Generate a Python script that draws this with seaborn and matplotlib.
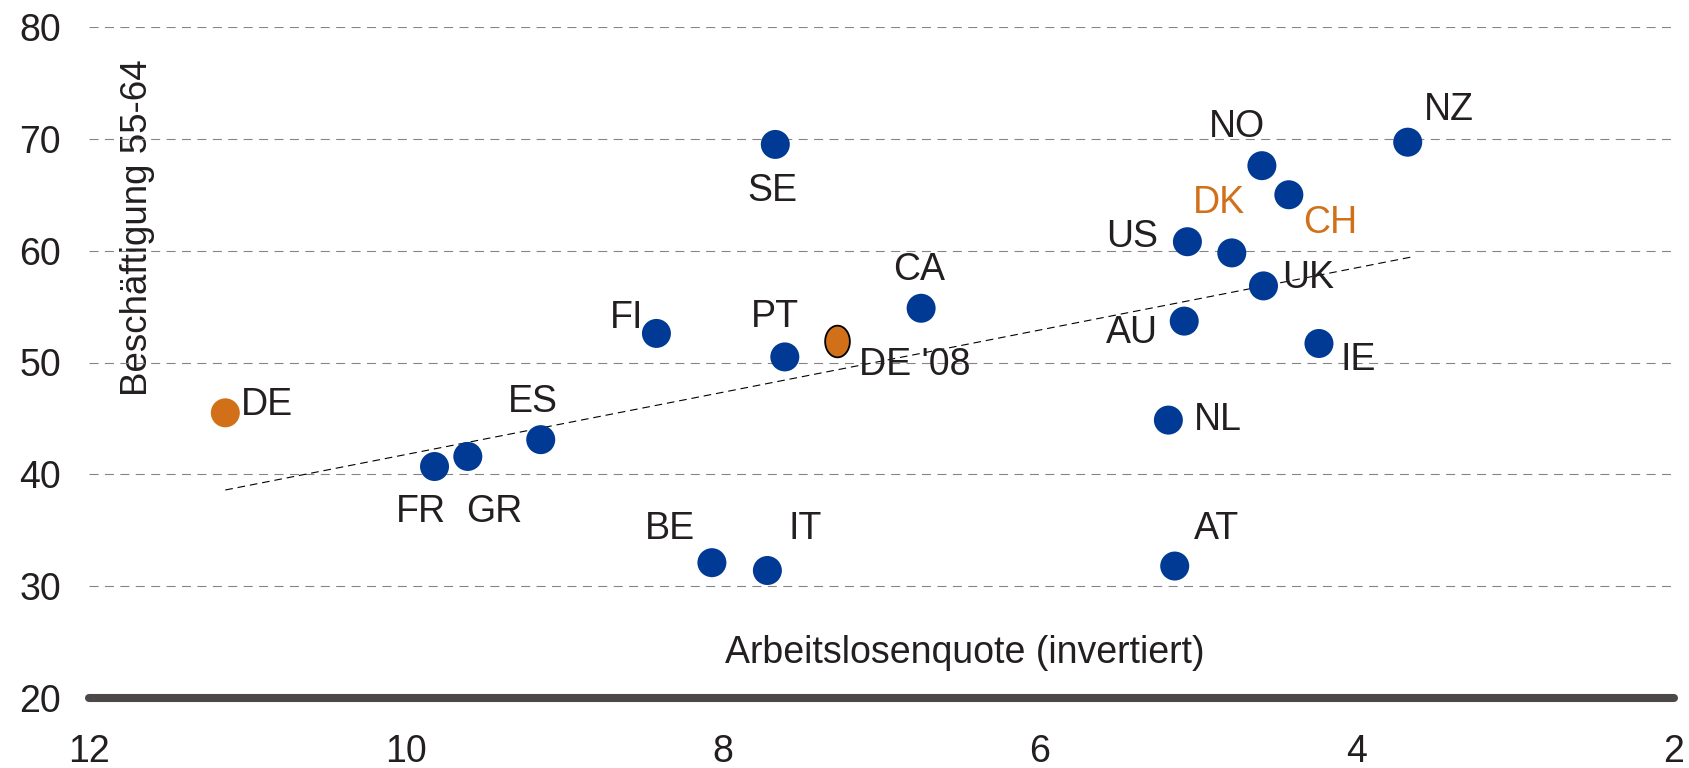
import matplotlib
matplotlib.use("Agg")
import matplotlib.pyplot as plt
import seaborn as sns
import pandas as pd
import numpy as np
from matplotlib.path import Path

# ---------------- data ----------------
countries = ["DE", "FR", "GR", "ES", "FI", "SE", "PT", "CA", "BE", "IT",
             "AT", "NL", "AU", "US", "DK", "UK", "NO", "CH", "IE", "NZ"]
unemployment = [11.14, 9.82, 9.61, 9.15, 8.42, 7.67, 7.61, 6.75, 8.07, 7.72,
                5.15, 5.19, 5.09, 5.07, 4.79, 4.59, 4.60, 4.43, 4.24, 3.68]
employment_55_64 = [45.5, 40.7, 41.6, 43.1, 52.6, 69.5, 50.5, 54.85, 32.1, 31.4,
                    31.8, 44.85, 53.7, 60.8, 59.8, 56.85, 67.6, 65.0, 51.7, 69.7]
groups = ["DE"] + ["other"] * 19

de08_label = "DE '08"
de08_x = [7.28]
de08_y = [51.95]

trend_x = [11.14, 3.65]
trend_y = [38.6, 59.45]

x_ticks = [12, 10, 8, 6, 4, 2]
y_ticks = [20, 30, 40, 50, 60, 70, 80]
x_label = "Arbeitslosenquote (invertiert)"
y_label = "Beschäftigung 55-64"
orange_text = ["DK", "CH"]

# ---------------- style ----------------
BLUE = "#003A94"
ORANGE = "#D2701A"
TXT = "#231F20"
GRID = "#858585"
AXLINE = "#4D4848"
FS = 27

# label offsets in pixels (dx right, dy up) and horizontal alignment
label_layout = {
    "DE": (16, -2, "left"), "FR": (-14, -55, "center"), "GR": (26, -66, "center"),
    "ES": (-8, 28, "center"), "FI": (-30, 5, "center"), "SE": (-3, -57, "center"),
    "PT": (-10, 30, "center"), "CA": (-2, 28, "center"), "BE": (-42, 24, "center"),
    "IT": (38, 32, "center"), "AT": (42, 27, "center"), "NL": (49, -10, "center"),
    "AU": (-52, -22, "center"), "US": (-55, -5, "center"), "DK": (-13, 40, "center"),
    "UK": (45, -2, "center"), "NO": (-25, 29, "center"), "CH": (41, -38, "center"),
    "IE": (39, -27, "center"), "NZ": (41, 22, "center"),
}
de08_offset = (22, -34, "left")

sns.set_theme(style="white")
plt.rcParams["font.family"] = ["Liberation Sans", "DejaVu Sans"]
plt.rcParams["lines.scale_dashes"] = False

W, H = 1690, 768
fig = plt.figure(figsize=(W / 100, H / 100), dpi=100)
ax = fig.add_axes([89 / W, (H - 698) / H, 1585 / W, 671 / H])
PX = 0.72  # points per pixel

df = pd.DataFrame({"x": unemployment, "y": employment_55_64,
                   "land": countries, "grp": groups})

# grid lines
for yv in y_ticks[1:]:
    ax.axhline(yv, color=GRID, lw=0.8, dashes=(6.5, 4.6), zorder=1)
# thick base line
ax.axhline(20, color=AXLINE, lw=5.8, solid_capstyle="round", zorder=2, clip_on=False)

# trend line
ax.plot(trend_x, trend_y, color="black", lw=0.8, dashes=(5.5, 3.5), zorder=2)

sns.scatterplot(data=df, x="x", y="y", hue="grp",
                palette={"DE": ORANGE, "other": BLUE},
                s=436, linewidth=0, legend=False, ax=ax, zorder=3)

t = np.linspace(0, 2 * np.pi, 60)
ellipse = Path(np.column_stack([0.78 * np.cos(t), np.sin(t)]), closed=True)
sns.scatterplot(x=de08_x, y=de08_y, marker=ellipse, s=520, color=ORANGE,
                edgecolor="black", linewidth=1.3, legend=False, ax=ax, zorder=4)

for c, xv, yv in zip(countries, unemployment, employment_55_64):
    dx, dy, ha = label_layout[c]
    ax.annotate(c, xy=(xv, yv), xytext=(dx * PX, dy * PX), textcoords="offset points",
                ha=ha, va="baseline", fontsize=FS,
                color=ORANGE if c in orange_text else TXT, zorder=5)
dx, dy, ha = de08_offset
ax.annotate(de08_label, xy=(de08_x[0], de08_y[0]), xytext=(dx * PX, dy * PX),
            textcoords="offset points", ha=ha, va="baseline", fontsize=FS,
            color=TXT, zorder=5)

ax.set_xlim(12, 2)
ax.set_ylim(20, 80)
ax.set_xticks(x_ticks)
ax.set_yticks(y_ticks)
ax.tick_params(axis="both", length=0, labelsize=FS, labelcolor=TXT)
ax.tick_params(axis="y", pad=20)
ax.tick_params(axis="x", pad=26)
for s in ax.spines.values():
    s.set_visible(False)
ax.grid(False)

ax.set_xlabel(x_label, fontsize=FS, color=TXT, va="baseline", ha="center")
ax.xaxis.set_label_coords((965 - 89) / 1585, (698 - 663) / 671)
ax.set_ylabel(y_label, fontsize=26.5, color=TXT, va="baseline", ha="center")
ax.yaxis.set_label_coords((147 - 89) / 1585, (698 - 228) / 671)

fig.savefig("out.png", dpi=100)
